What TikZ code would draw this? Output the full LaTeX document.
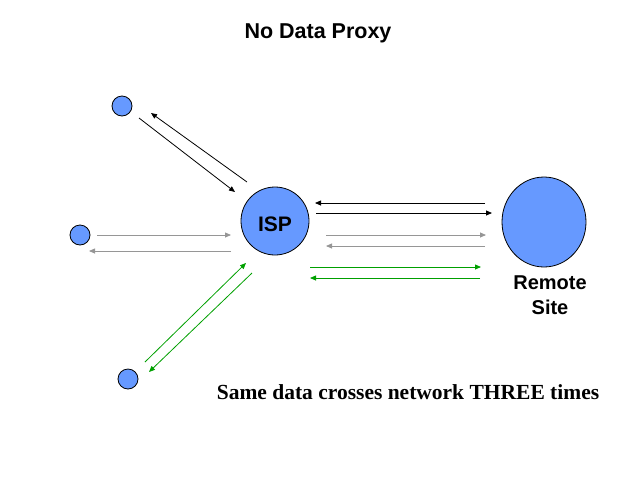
\documentclass[tikz,border=0pt]{standalone}
\usepackage{fontspec}
\setmainfont{Liberation Serif}
\setsansfont{Liberation Sans}
\usetikzlibrary{shapes.geometric,arrows.meta,positioning}
\definecolor{nodeblue}{RGB}{102,153,255}
\definecolor{linkgray}{RGB}{150,150,150}
\definecolor{linkgreen}{RGB}{0,160,0}

\begin{document}
\begin{tikzpicture}[x=1pt,y=-1pt,
    host/.style={circle,draw,line width=0.8pt,fill=nodeblue,minimum size=20pt,inner sep=0pt},
    hub/.style={host,minimum size=68pt},
    remote/.style={ellipse,draw,line width=0.8pt,fill=nodeblue,minimum width=84pt,minimum height=90pt,inner sep=0pt},
    flow/.style={line width=0.8pt,-{Triangle[length=6pt,width=5pt]}},
    lbl/.style={font=\sffamily\bfseries\fontsize{20}{25}\selectfont}]
  \useasboundingbox (0,0) rectangle (640,480);
  % title
  \node[lbl,font=\sffamily\bfseries\fontsize{21.5}{25}\selectfont,anchor=base] (title) at (318,38) {No Data Proxy};
  % hosts, ISP and remote site
  \node[host] (c1) at (122,106) {};
  \node[host] (c2) at (80,235) {};
  \node[host] (c3) at (128,379) {};
  \node[hub] (isp) at (275,221) {};
  \node[lbl,font=\sffamily\bfseries\fontsize{21}{25}\selectfont,anchor=base] (isptext) at (275,231) {ISP};
  \node[remote] (site) at (544,222) {};
  \node[lbl,align=center,anchor=north,inner sep=0pt] (sitetext) at (550,276) {Remote\\Site};
  % first client (black)
  \draw[flow] ([shift={(17,12)}]c1.center) -- ([shift={(-40,-29)}]isp.center);
  \draw[flow] ([shift={(-28,-39)}]isp.center) -- ([shift={(29,7)}]c1.center);
  % second client (gray)
  \draw[flow,linkgray] ([shift={(17,0)}]c2.center) -- ([shift={(-44,14)}]isp.center);
  \draw[flow,linkgray] ([shift={(-44,30)}]isp.center) -- ([shift={(9,16)}]c2.center);
  % third client (green)
  \draw[flow,linkgreen] ([shift={(17,-17)}]c3.center) -- ([shift={(-29,42)}]isp.center);
  \draw[flow,linkgreen] ([shift={(-23,52)}]isp.center) -- ([shift={(21,-7)}]c3.center);
  % ISP <-> remote site
  \draw[flow] ([shift={(-59,-19)}]site.center) -- ([shift={(40,-18)}]isp.center);
  \draw[flow] ([shift={(41,-8)}]isp.center) -- ([shift={(-52,-9)}]site.center);
  \draw[flow,linkgray] ([shift={(51,14)}]isp.center) -- ([shift={(-58,13)}]site.center);
  \draw[flow,linkgray] ([shift={(-59,24)}]site.center) -- ([shift={(51,25)}]isp.center);
  \draw[flow,linkgreen] ([shift={(35,46)}]isp.center) -- ([shift={(-63,45)}]site.center);
  \draw[flow,linkgreen] ([shift={(-64,56)}]site.center) -- ([shift={(35,57)}]isp.center);
  % caption
  \node[font=\rmfamily\bfseries\fontsize{21.5}{24}\selectfont,anchor=base] (note) at (408,399) {Same data crosses network THREE times};
\end{tikzpicture}
\end{document}
